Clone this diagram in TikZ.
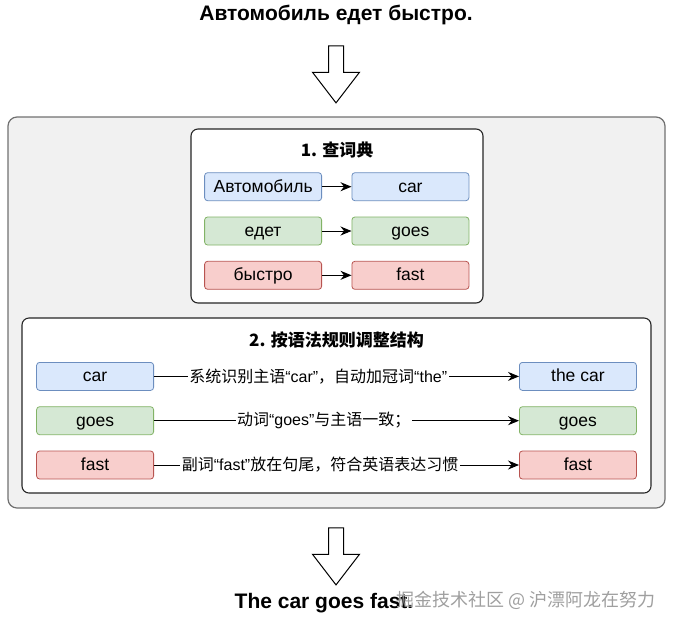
\documentclass[tikz,border=0pt]{standalone}
\usepackage{fontspec}
\setmainfont{Liberation Sans}
\newfontfamily\cjk{Noto Sans CJK SC}
\usetikzlibrary{matrix,arrows.meta,shapes.arrows}

\definecolor{bluefill}{HTML}{DAE8FC}
\definecolor{blueline}{HTML}{6C8EBF}
\definecolor{greenfill}{HTML}{D5E8D4}
\definecolor{greenline}{HTML}{82B366}
\definecolor{redfill}{HTML}{F8CECC}
\definecolor{redline}{HTML}{B85450}
\definecolor{panelfill}{HTML}{F1F1F1}
\definecolor{panelline}{HTML}{707070}

\tikzset{
  word/.style={draw, rounded corners=3pt, line width=0.8pt, minimum width=117pt,
    minimum height=28pt, inner sep=0pt, text height=13.5pt, text depth=2.5pt,
    anchor=center, font=\fontsize{17.5}{20}\selectfont},
  bluecell/.style={word, fill=bluefill, draw=blueline},
  greencell/.style={word, fill=greenfill, draw=greenline},
  redcell/.style={word, fill=redfill, draw=redline},
  bigarrow/.style={single arrow, draw, line width=1pt, fill=white,
    shape border rotate=270, minimum height=57pt, inner sep=7pt,
    single arrow head extend=16pt, single arrow tip angle=75},
  flow/.style={-{Stealth[length=11pt,width=9pt]}, line width=1pt},
  note/.style={fill=white, inner sep=1.5pt, font=\fontsize{16}{19}\selectfont},
  heading/.style={font=\bfseries\fontsize{21}{25}\selectfont},
  boxtitle/.style={font=\cjk\bfseries\fontsize{17}{20}\selectfont},
}

\begin{document}
\begin{tikzpicture}[x=1pt,y=-1pt]
  \useasboundingbox (0,0) rectangle (676,622);

  % panels
  \draw[panelline, fill=panelfill, line width=1.2pt, rounded corners=9pt]
    (8,117) rectangle (665,508);
  \draw[black!85, fill=white, line width=1.1pt, rounded corners=7pt]
    (191,129) rectangle (483,303);
  \draw[black!85, fill=white, line width=1.1pt, rounded corners=7pt]
    (22,318) rectangle (651,493);

  \node[heading] (source) at (336,15) {Автомобиль едет быстро.};
  \node[bigarrow] (down1) at (336,69.5) {};

  \node[boxtitle] (step1) at (337,150) {1. 查词典};
  \matrix (dict) [matrix of nodes, row sep=15.5pt, column sep=29.5pt,
      row 1/.style={nodes=bluecell}, row 2/.style={nodes=greencell},
      row 3/.style={nodes=redcell}] at (336.75,231) {
    Автомобиль & car \\
    едет & goes \\
    быстро & fast \\};
  \path[flow]
    (dict-1-1) edge (dict-1-2)
    (dict-2-1) edge (dict-2-2)
    (dict-3-1) edge (dict-3-2);

  \node[boxtitle] (step2) at (336.5,340) {2. 按语法规则调整结构};
  \matrix (rule) [matrix of nodes, row sep=15.5pt, column sep=365pt,
      row 1/.style={nodes=bluecell}, row 2/.style={nodes=greencell},
      row 3/.style={nodes=redcell}] at (336.5,420.7) {
    car & the car \\
    goes & goes \\
    fast & fast \\};
  \path[flow]
    (rule-1-1) edge node[note, pos=.45] {{\cjk 系统识别主语}“car”{\cjk ，自动加冠词}“the”} (rule-1-2)
    (rule-2-1) edge node[note, pos=.465] {{\cjk 动词}“goes”{\cjk 与主语一致；}} (rule-2-2)
    (rule-3-1) edge node[note, pos=.455] {{\cjk 副词}“fast”{\cjk 放在句尾，符合英语表达习惯}} (rule-3-2);

  \node[bigarrow] (down2) at (336,551.5) {};
  \node[heading] (result) at (324,603) {The car goes fast.};
  \node[text=gray!75, font=\cjk\fontsize{18}{21}\selectfont] (mark) at (526,600)
    {掘金技术社区 @ 沪漂阿龙在努力};
\end{tikzpicture}
\end{document}
